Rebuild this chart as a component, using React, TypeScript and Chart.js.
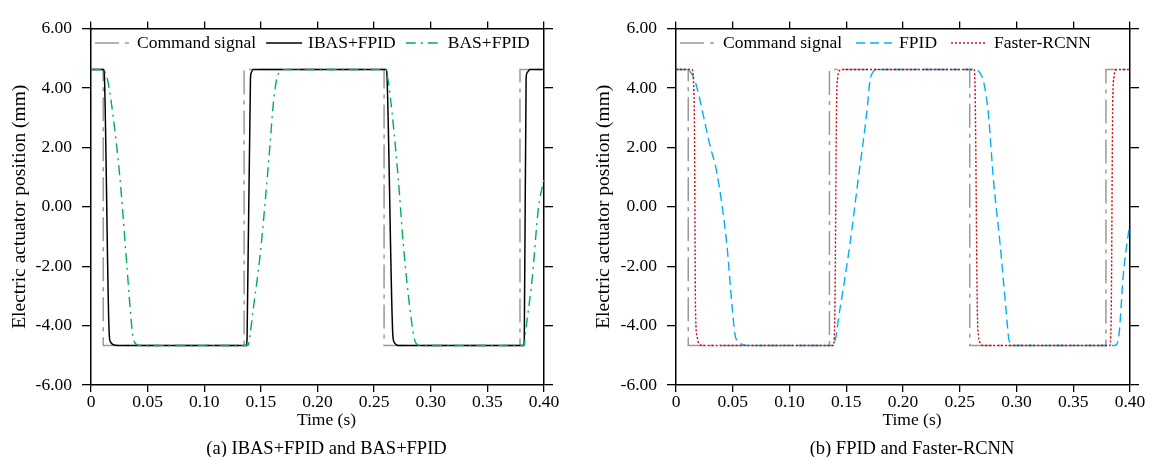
import React, { useEffect, useRef } from 'react';
import { Chart, registerables } from 'chart.js';

Chart.register(...registerables);

const FONT = '"Liberation Serif", "Times New Roman", Times, serif';

// ---- tick values / labels ----
const timeTicks = [0, 0.05, 0.1, 0.15, 0.2, 0.25, 0.3, 0.35, 0.4];
const timeTickLabels = ['0', '0.05', '0.10', '0.15', '0.20', '0.25', '0.30', '0.35', '0.40'];
const posTicks = [-6, -4, -2, 0, 2, 4, 6];
const posTickLabels = ['-6.00', '-4.00', '-2.00', '0.00', '2.00', '4.00', '6.00'];

// ---- command signal (shared) ----
const commandTime = [0, 0.0108, 0.0108, 0.1352, 0.1352, 0.2588, 0.2588, 0.3788, 0.3788, 0.4];
const commandPos = [4.62, 4.62, -4.67, -4.67, 4.62, 4.62, -4.67, -4.67, 4.62, 4.62];

// ---- (a) IBAS+FPID ----
const ibasTime = [0, 0.0113, 0.0118, 0.0161, 0.0172, 0.0195, 0.024,
  0.1372, 0.1378, 0.1408, 0.1416, 0.1432,
  0.2607, 0.2613, 0.2665, 0.2676, 0.2695, 0.2712,
  0.3822, 0.3826, 0.3842, 0.3852, 0.3875, 0.4];
const ibasPos = [4.62, 4.62, 4.45, -4.3, -4.55, -4.64, -4.67,
  -4.67, -4.45, 4.3, 4.52, 4.62,
  4.62, 4.45, -4.3, -4.55, -4.64, -4.67,
  -4.67, -4.45, 4.3, 4.52, 4.62, 4.62];

// ---- (a) BAS+FPID ----
const basTime = [0, 0.0112, 0.0128, 0.015, 0.0197, 0.0256, 0.0315, 0.0359, 0.0378, 0.0417, 0.045,
  0.1385, 0.1395, 0.1433, 0.1492, 0.1536, 0.158, 0.161, 0.1652, 0.1727,
  0.2605, 0.2615, 0.264, 0.2713, 0.2757, 0.2816, 0.2855, 0.2875, 0.292,
  0.3825, 0.3835, 0.3898, 0.3948, 0.4];
const basPos = [4.62, 4.62, 4.5, 4.2, 3.0, 0.95, -1.9, -4.0, -4.5, -4.66, -4.67,
  -4.67, -4.55, -3.43, -1.68, 0.08, 2.05, 3.47, 4.46, 4.62,
  4.62, 4.45, 3.8, 0.95, -1.24, -3.43, -4.45, -4.62, -4.67,
  -4.67, -4.3, -2.34, -0.14, 0.95];

// ---- (b) FPID ----
const fpidTime = [0, 0.0108, 0.0125, 0.0167, 0.03, 0.0359, 0.0447, 0.0496, 0.052, 0.0549, 0.0623,
  0.1386, 0.1445, 0.1533, 0.1606, 0.168, 0.1709, 0.173, 0.178,
  0.2649, 0.2675, 0.2708, 0.2752, 0.2796, 0.2855, 0.2907, 0.2937, 0.3,
  0.3868, 0.3903, 0.394, 0.3985, 0.4];
const fpidPos = [4.62, 4.62, 4.55, 4.24, 2.05, 1.17, -1.24, -3.43, -4.31, -4.53, -4.67,
  -4.67, -3.43, -1.24, 0.95, 3.14, 4.24, 4.5, 4.62,
  4.62, 4.52, 4.24, 3.14, 0.95, -1.24, -3.43, -4.53, -4.67,
  -4.67, -4.31, -2.34, -0.92, -0.6];

// ---- (b) Faster-RCNN ----
const rcnnTime = [0, 0.014, 0.0152, 0.0163, 0.0172, 0.0185, 0.02, 0.024,
  0.1386, 0.1394, 0.14, 0.1415, 0.1425, 0.144, 0.146,
  0.2625, 0.2632, 0.2637, 0.2655, 0.2665, 0.268, 0.2707,
  0.3822, 0.383, 0.3835, 0.3848, 0.3858, 0.387, 0.3888, 0.4];
const rcnnPos = [4.62, 4.62, 4.35, 2.5, -3.5, -4.35, -4.6, -4.67,
  -4.67, -4.4, -3.5, 3.5, 4.35, 4.58, 4.62,
  4.62, 4.4, 3.5, -3.5, -4.35, -4.58, -4.67,
  -4.67, -4.4, -3.5, 3.5, 4.35, 4.58, 4.62, 4.62];

const toPoints = (t: number[], v: number[]) => t.map((x, i) => ({ x, y: v[i] }));

const commandDataset = () => ({
  label: 'Command signal',
  data: toPoints(commandTime, commandPos),
  borderColor: '#9a9a9a',
  borderWidth: 1.5,
  borderDash: [24, 6, 4, 6],
  tension: 0,
  order: 3,
});

const curve = (label: string, t: number[], v: number[], color: string, dash: number[], width: number, order: number) => ({
  label,
  data: toPoints(t, v),
  borderColor: color,
  borderWidth: width,
  borderDash: dash,
  cubicInterpolationMode: 'monotone' as const,
  order,
});

const figureTextPlugin = (caption: string, textGap: number, itemGap: number) => ({
  id: 'figureText',
  afterDraw(chart: any) {
    const { ctx, chartArea: a } = chart;
    ctx.save();
    ctx.fillStyle = '#000';
    ctx.textBaseline = 'middle';
    ctx.font = `17.5px ${FONT}`;
    let x = a.left + 4;
    const y = a.top + 14.5;
    chart.data.datasets.forEach((ds: any) => {
      ctx.save();
      ctx.strokeStyle = ds.borderColor;
      ctx.lineWidth = ds.borderWidth;
      ctx.setLineDash(ds.borderDash || []);
      ctx.beginPath();
      ctx.moveTo(x, y);
      ctx.lineTo(x + 36, y);
      ctx.stroke();
      ctx.restore();
      x += 36 + textGap;
      ctx.textAlign = 'left';
      ctx.fillText(ds.label, x, y);
      x += ctx.measureText(ds.label).width + itemGap;
    });
    const cx = (a.left + a.right) / 2 + 9;
    ctx.textAlign = 'center';
    ctx.fillText('Time (s)', cx, a.bottom + 35);
    ctx.font = `18.5px ${FONT}`;
    ctx.fillText(caption, cx, a.bottom + 64);
    ctx.restore();
  },
});

const tickFont = { family: FONT, size: 17.5 };

const makeConfig = (datasets: any[], caption: string, padLeft: number, padRight: number, yWidth: number, textGap: number, itemGap: number): any => ({
  type: 'line',
  data: { datasets },
  options: {
    animation: false,
    responsive: false,
    elements: { point: { radius: 0 } },
    layout: { padding: { left: padLeft, right: padRight, top: 0, bottom: 42 } },
    plugins: { legend: { display: false }, tooltip: { enabled: false } },
    scales: {
      x: {
        type: 'linear', position: 'bottom', min: 0, max: 0.4,
        afterBuildTicks: (s: any) => { s.ticks = timeTicks.map((v) => ({ value: v })); },
        afterFit: (s: any) => { s.height = 30; },
        ticks: { callback: (_v: any, i: number) => timeTickLabels[i], font: tickFont, color: '#000', padding: 0, maxRotation: 0, autoSkip: false },
        grid: { drawOnChartArea: false, drawTicks: true, tickLength: 7, color: '#000', lineWidth: 1.3 },
        border: { display: true, color: '#000', width: 1.5 },
      },
      x2: {
        type: 'linear', position: 'top', min: 0, max: 0.4,
        afterBuildTicks: (s: any) => { s.ticks = timeTicks.map((v) => ({ value: v })); },
        afterFit: (s: any) => { s.height = 13; },
        ticks: { display: false },
        grid: { drawOnChartArea: false, drawTicks: true, tickLength: 7, color: '#000', lineWidth: 1.3 },
        border: { display: true, color: '#000', width: 1.5 },
      },
      y: {
        type: 'linear', position: 'left', min: -6, max: 6,
        afterBuildTicks: (s: any) => { s.ticks = posTicks.map((v) => ({ value: v })); },
        afterFit: (s: any) => { s.width = yWidth; },
        ticks: { callback: (_v: any, i: number) => posTickLabels[i], font: tickFont, color: '#000', padding: 10 },
        title: { display: true, text: 'Electric actuator position (mm)', font: { family: FONT, size: 19.5 }, color: '#000', padding: 0 },
        grid: { drawOnChartArea: false, drawTicks: true, tickLength: 9, color: '#000', lineWidth: 1.3 },
        border: { display: true, color: '#000', width: 1.5 },
      },
      y2: {
        type: 'linear', position: 'right', min: -6, max: 6,
        afterBuildTicks: (s: any) => { s.ticks = posTicks.map((v) => ({ value: v })); },
        afterFit: (s: any) => { s.width = 10; },
        ticks: { display: false },
        grid: { drawOnChartArea: false, drawTicks: true, tickLength: 9, color: '#000', lineWidth: 1.3 },
        border: { display: true, color: '#000', width: 1.5 },
      },
    },
  },
  plugins: [figureTextPlugin(caption, textGap, itemGap)],
});

function Panel({ width, config }: { width: number; config: () => any }) {
  const ref = useRef<HTMLCanvasElement | null>(null);
  useEffect(() => {
    if (!ref.current) return;
    const chart = new Chart(ref.current, config());
    return () => chart.destroy();
  }, []);
  return <canvas ref={ref} width={width} height={449} style={{ display: 'block', width, height: 449 }} />;
}

export default function App() {
  const left = () =>
    makeConfig(
      [
        commandDataset(),
        curve('IBAS+FPID', ibasTime, ibasPos, '#000000', [], 1.5, 1),
        curve('BAS+FPID', basTime, basPos, '#00b050', [10, 5, 2, 5], 1.4, 0),
      ],
      '(a) IBAS+FPID and BAS+FPID',
      0, 24, 83, 6, 10,
    );
  const right = () =>
    makeConfig(
      [
        commandDataset(),
        curve('FPID', fpidTime, fpidPos, '#00b0f0', [9, 5], 1.4, 1),
        curve('Faster-RCNN', rcnnTime, rcnnPos, '#d00000', [2, 2], 1.4, 0),
      ],
      '(b) FPID and Faster-RCNN',
      14, 7, 84, 7, 14,
    );
  return (
    <div style={{ display: 'flex', width: 1139, height: 449, background: '#fff' }}>
      <Panel width={570} config={left} />
      <Panel width={569} config={right} />
    </div>
  );
}
